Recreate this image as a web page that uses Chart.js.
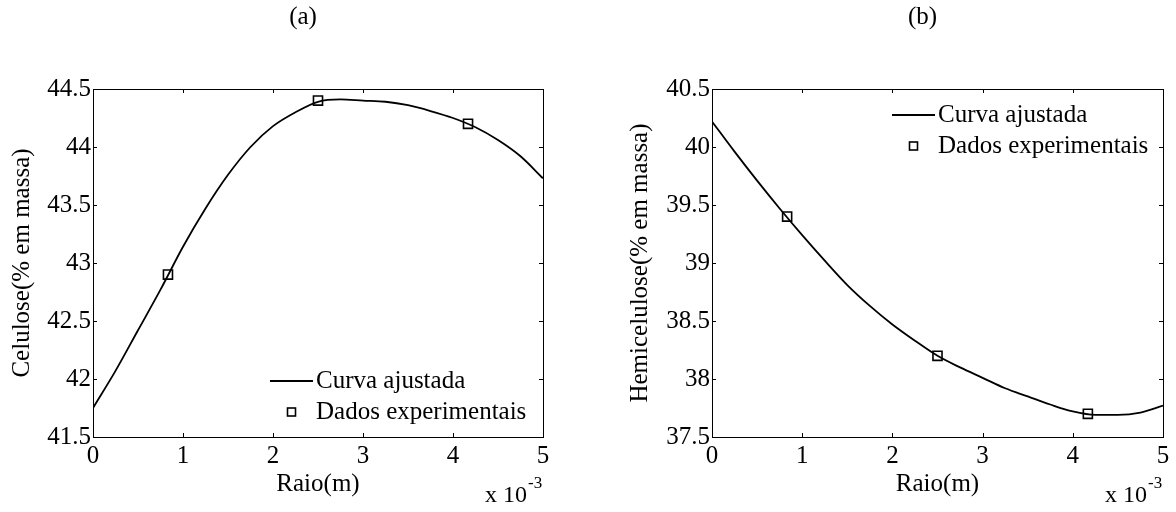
<!DOCTYPE html>
<html>
<head>
<meta charset="utf-8">
<script src="https://cdn.jsdelivr.net/npm/chart.js@4.4.1/dist/chart.umd.min.js"></script>
<style>
  html, body { margin: 0; padding: 0; background: #fff; }
  #wrap { position: relative; width: 1176px; height: 512px; }
  canvas { position: absolute; top: 0; }
</style>
</head>
<body>
<div id="wrap">
  <canvas id="chartA" width="588" height="512" style="left:0"></canvas>
  <canvas id="chartB" width="588" height="512" style="left:588px"></canvas>
</div>
<script>
// raio em mm (x 10^-3 m)
const raioCurva = [0, 0.25, 0.5, 0.75, 1, 1.25, 1.5, 1.75, 2, 2.25, 2.5, 2.75, 3, 3.25, 3.5, 3.75, 4, 4.25, 4.5, 4.75, 5];
const celuloseCurva = [41.75, 42.07, 42.42, 42.77, 43.14, 43.47, 43.76, 44.0, 44.18, 44.3, 44.39, 44.41, 44.4, 44.39, 44.36, 44.31, 44.25, 44.17, 44.06, 43.92, 43.73];
const hemiceluloseCurva = [40.22, 39.96, 39.71, 39.47, 39.24, 39.02, 38.81, 38.63, 38.47, 38.33, 38.2, 38.1, 38.01, 37.92, 37.85, 37.78, 37.72, 37.69, 37.69, 37.71, 37.77];

const raioDados = [0.833, 2.5, 4.167];
const celuloseDados = [42.9, 44.4, 44.2];
const hemiceluloseDados = [39.4, 38.2, 37.7];

const FONT = '"Liberation Serif", "Times New Roman", serif';
Chart.defaults.font.family = FONT;
Chart.defaults.font.size = 25;
Chart.defaults.color = '#000';

// moldura estilo MATLAB: caixa, ticks para dentro, titulo, legenda e expoente
const framePlugin = {
  id: 'frame',
  afterDraw(chart, args, opts) {
    const { ctx, chartArea: ca, scales } = chart;
    ctx.save();
    ctx.strokeStyle = '#000';
    ctx.lineWidth = 1;
    ctx.strokeRect(ca.left + 0.5, ca.top + 0.5, ca.right - ca.left, ca.bottom - ca.top);
    const tl = 4;
    ctx.beginPath();
    scales.x.ticks.forEach(t => {
      const px = Math.round(scales.x.getPixelForValue(t.value)) + 0.5;
      ctx.moveTo(px, ca.bottom); ctx.lineTo(px, ca.bottom - tl);
      ctx.moveTo(px, ca.top); ctx.lineTo(px, ca.top + tl);
    });
    scales.y.ticks.forEach(t => {
      const py = Math.round(scales.y.getPixelForValue(t.value)) + 0.5;
      ctx.moveTo(ca.left, py); ctx.lineTo(ca.left + tl, py);
      ctx.moveTo(ca.right, py); ctx.lineTo(ca.right - tl, py);
    });
    ctx.stroke();

    ctx.fillStyle = '#000';
    ctx.font = '25px ' + FONT;
    ctx.textBaseline = 'middle';
    ctx.textAlign = 'center';
    ctx.fillText(opts.title, (ca.left + ca.right) / 2 - 15, 17);

    // legenda
    const lg = opts.legend;
    const ds = chart.data.datasets;
    ctx.textAlign = 'left';
    ctx.lineWidth = 2;
    ctx.beginPath();
    ctx.moveTo(lg.x, lg.y); ctx.lineTo(lg.x + 43, lg.y);
    ctx.stroke();
    ctx.fillText(ds[0].label, lg.x + 46, lg.y);
    const my = lg.y + 31;
    ctx.lineWidth = 1.6;
    ctx.strokeRect(lg.x + 17.5, my - 4, 8, 8);
    ctx.fillText(ds[1].label, lg.x + 46, my);

    // x 10^-3
    ctx.textBaseline = 'alphabetic';
    ctx.font = '24px ' + FONT;
    const ex = ca.right - 58;
    ctx.fillText('x 10', ex, 502);
    const w = ctx.measureText('x 10').width;
    ctx.font = '17px ' + FONT;
    ctx.fillText('-3', ex + w + 1, 488);
    ctx.restore();
  }
};

function buildChart(id, cfg) {
  const ctx = document.getElementById(id).getContext('2d');
  return new Chart(ctx, {
    type: 'line',
    data: {
      datasets: [
        {
          label: 'Curva ajustada',
          data: cfg.curva.map((y, i) => ({ x: raioCurva[i], y: y })),
          borderColor: '#000',
          borderWidth: 1.8,
          pointRadius: 0,
          cubicInterpolationMode: 'monotone'
        },
        {
          label: 'Dados experimentais',
          data: cfg.dados.map((y, i) => ({ x: raioDados[i], y: y })),
          showLine: false,
          pointStyle: 'rect',
          pointRadius: 6.4,
          pointBorderWidth: 1.6,
          pointBorderColor: '#000',
          pointBackgroundColor: 'rgba(0,0,0,0)'
        }
      ]
    },
    options: {
      responsive: false,
      animation: false,
      layout: { padding: { left: cfg.padLeft, right: cfg.padRight, top: 89, bottom: 13 } },
      plugins: {
        legend: { display: false },
        tooltip: { enabled: false },
        frame: { title: cfg.title, legend: cfg.legend }
      },
      scales: {
        x: {
          type: 'linear',
          min: 0,
          max: 5,
          ticks: { stepSize: 1, padding: 4, maxRotation: 0, callback: v => String(v) },
          grid: { display: false, drawTicks: false },
          border: { display: false },
          title: { display: true, text: 'Raio(m)', padding: 0 },
          afterFit: s => { s.height = 62; }
        },
        y: {
          min: cfg.yMin,
          max: cfg.yMax,
          ticks: { stepSize: 0.5, padding: 2, callback: v => String(v) },
          grid: { display: false, drawTicks: false },
          border: { display: false },
          title: { display: true, text: cfg.yLabel, padding: 0 },
          afterFit: s => { s.width = cfg.yWidth; }
        }
      }
    },
    plugins: [framePlugin]
  });
}

buildChart('chartA', {
  title: '(a)',
  yLabel: 'Celulose(% em massa)',
  yMin: 41.5, yMax: 44.5,
  curva: celuloseCurva,
  dados: celuloseDados,
  padLeft: 7, yWidth: 86, padRight: 45,
  legend: { x: 270, y: 381 }
});

buildChart('chartB', {
  title: '(b)',
  yLabel: 'Hemicelulose(% em massa)',
  yMin: 37.5, yMax: 40.5,
  curva: hemiceluloseCurva,
  dados: hemiceluloseDados,
  padLeft: 37, yWidth: 87, padRight: 13,
  legend: { x: 304, y: 115 }
});
</script>
</body>
</html>
